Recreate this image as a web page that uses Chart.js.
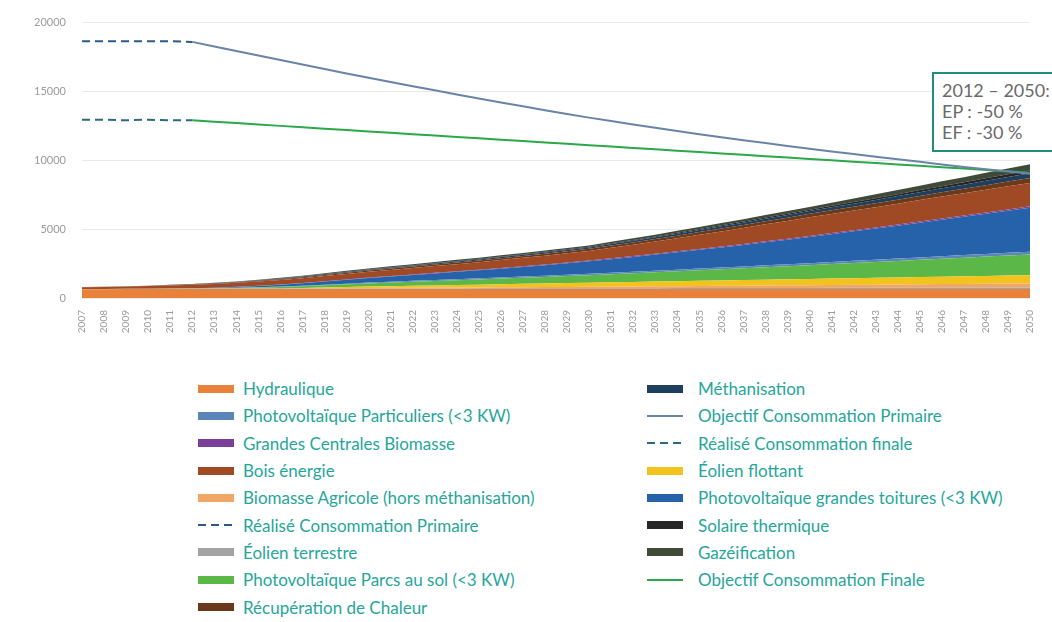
<!DOCTYPE html>
<html>
<head>
<meta charset="utf-8">
<script src="https://cdn.jsdelivr.net/npm/chart.js@4.4.1/dist/chart.umd.min.js"></script>
<style>
  html, body { margin: 0; padding: 0; background: #fff; }
  body { width: 1052px; height: 622px; overflow: hidden; position: relative; font-family: Lato, "Open Sans", sans-serif; }
  #chart { position: absolute; left: 0; top: 0; }
  #note { position: absolute; left: 932px; top: 72px; width: 150px; height: 80px; border: 2px solid #1f8f80; background: #fff;
          color: #6a6a6a; font-size: 18px; line-height: 21px; padding: 6px 0 0 8px; box-sizing: border-box; white-space: nowrap; }
  .legend { position: absolute; top: 375px; }
  .item { height: 27.3px; display: flex; align-items: center; color: #26a69a; font-size: 17px; white-space: nowrap; }
  .sw { display: inline-block; width: 36px; flex: none; }
</style>
</head>
<body>
<canvas id="chart" width="1052" height="350"></canvas>
<div id="note">2012 – 2050:<br>EP : -50 %<br>EF : -30 %</div>
<div id="legend-left" class="legend" style="left:198px"></div>
<div id="legend-right" class="legend" style="left:647px"></div>
<script>
const years = ["2007","2008","2009","2010","2011","2012","2013","2014","2015","2016","2017","2018","2019","2020",
  "2021","2022","2023","2024","2025","2026","2027","2028","2029","2030","2031","2032","2033","2034","2035","2036",
  "2037","2038","2039","2040","2041","2042","2043","2044","2045","2046","2047","2048","2049","2050"];

// stacked areas (bottom to top)
const hydraulique = [640,640,645,645,650,650, 650,650,650,650,650,650,650,650, 650,650,650,650,650,650,650,650,650,650, 650,650,650,650,650,650,650,650,650,650, 655,655,655,655,660,660,660,660,660,660];
const eolienTerrestre = [20,22,24,26,28,30, 31,32,33,35,36,37,38,40, 42,44,46,48,50,52,54,56,58,60, 62,64,66,68,70,72,74,76,78,80, 82,84,86,88,90,92,94,96,98,100];
const biomasseAgricole = [0,0,0,0,0,0, 0,0,5,10,18,25,32,40, 46,52,58,64,70,76,82,88,94,100, 110,120,130,140,150,160,170,180,190,200, 210,220,230,240,250,260,270,280,290,300];
const eolienFlottant = [0,0,0,0,0,0, 0,0,0,0,20,50,75,100, 120,140,160,180,200,220,240,260,280,300, 315,330,345,360,375,390,405,420,435,450, 465,480,495,510,525,540,555,570,585,600];
const pvParcs = [0,0,0,0,5,10, 25,45,70,100,130,160,195,230, 260,290,320,350,380,410,440,475,510,550, 590,630,675,720,765,810,855,905,950,1000, 1050,1100,1150,1200,1250,1300,1350,1400,1450,1500];
const pvParticuliers = [0,0,2,5,8,10, 15,20,26,32,38,44,52,60, 64,68,72,76,80,84,88,92,96,100, 105,110,115,120,125,130,135,140,145,150, 155,160,165,170,175,180,185,190,195,200];
const pvToitures = [0,0,0,0,0,0, 20,50,90,130,180,230,280,330, 380,430,480,530,580,640,700,760,830,900, 990,1080,1170,1260,1360,1460,1560,1670,1780,1900, 2020,2140,2260,2390,2520,2650,2780,2920,3060,3200];
const grandesCentrales = [0,0,0,0,5,10, 12,14,16,18,20,24,27,30, 33,36,39,42,45,48,51,54,57,60, 62,64,66,68,70,72,74,76,78,80, 82,84,86,88,90,92,94,96,98,100];
const boisEnergie = [120,140,165,190,220,250, 270,290,310,330,350,375,400,420, 445,470,495,520,550,580,610,640,670,700, 760,820,880,950,1020,1090,1160,1230,1290,1350, 1390,1430,1470,1510,1550,1590,1620,1650,1680,1700];
const recupChaleur = [20,22,24,26,28,30, 38,46,54,62,70,76,84,90, 96,102,108,114,120,126,132,138,144,150, 160,170,180,190,200,210,220,230,240,250, 260,270,280,290,300,310,320,330,340,350];
const methanisation = [0,0,0,0,5,10, 15,20,27,34,41,48,54,60, 64,68,72,76,80,84,88,92,96,100, 110,120,130,140,150,160,170,180,190,200, 215,230,245,260,275,290,305,320,335,350];
const solaireThermique = [0,0,0,0,5,10, 12,15,18,20,22,25,28,30, 32,34,36,38,40,42,44,46,48,50, 55,60,65,70,75,80,85,90,95,100, 110,120,130,140,150,160,170,180,190,200];
const gazeification = [0,0,0,0,5,10, 17,25,33,41,49,57,63,70, 73,76,79,82,85,88,91,94,97,100, 110,120,130,140,150,160,170,180,190,200, 225,250,275,300,325,350,375,400,425,450];

// consumption lines
const realiseCP = [18650,18650,18650,18650,18650,18600, null,null,null,null,null,null,null,null,
  null,null,null,null,null,null,null,null,null,null, null,null,null,null,null,null,null,null,null,null,
  null,null,null,null,null,null,null,null,null,null];
const realiseCF = [12950,12950,12900,12950,12900,12900, null,null,null,null,null,null,null,null,
  null,null,null,null,null,null,null,null,null,null, null,null,null,null,null,null,null,null,null,null,
  null,null,null,null,null,null,null,null,null,null];
const objectifCP = [null,null,null,null,null, 18600,18270,17940,17610,17280,16950,16630,16310,16000,
  15690,15380,15080,14780,14490,14200,13920,13640,13370,13100, 12850,12600,12360,12130,11900,11680,11460,11250,11040,10840,
  10640,10450,10260,10080,9900,9700,9520,9350,9180,9020];
const objectifCF = [null,null,null,null,null, 12900,12800,12700,12600,12500,12400,12300,12200,12100,
  12000,11900,11800,11700,11600,11500,11400,11300,11200,11100, 11000,10900,10800,10700,10600,10500,10400,10300,10200,10100,
  10000,9900,9800,9700,9600,9500,9400,9300,9200,9100];

const areas = [
  ["Hydraulique", hydraulique, "#e8823a"],
  ["Éolien terrestre", eolienTerrestre, "#a3a3a3"],
  ["Biomasse Agricole (hors méthanisation)", biomasseAgricole, "#f0a766"],
  ["Éolien flottant", eolienFlottant, "#f2c31c"],
  ["Photovoltaïque Parcs au sol (<3 KW)", pvParcs, "#5cb749"],
  ["Photovoltaïque Particuliers (<3 KW)", pvParticuliers, "#5b86b8"],
  ["Photovoltaïque grandes toitures (<3 KW)", pvToitures, "#2662aa"],
  ["Grandes Centrales Biomasse", grandesCentrales, "#7b3f9a"],
  ["Bois énergie", boisEnergie, "#a04a25"],
  ["Récupération de Chaleur", recupChaleur, "#6b3a1a"],
  ["Méthanisation", methanisation, "#1f3f5f"],
  ["Solaire thermique", solaireThermique, "#262626"],
  ["Gazéification", gazeification, "#3f4a38"]
];

const datasets = areas.map(([label, data, color], i) => ({
  label, data,
  backgroundColor: color,
  borderColor: color,
  borderWidth: 0,
  fill: i === 0 ? "origin" : "-1",
  stack: "areas",
  pointRadius: 0
}));

const lines = [
  ["Réalisé Consommation Primaire", realiseCP, "#2b5a8a", [8, 5]],
  ["Réalisé Consommation finale", realiseCF, "#2f6a7a", [8, 5]],
  ["Objectif Consommation Primaire", objectifCP, "#6a83a8", null],
  ["Objectif Consommation Finale", objectifCF, "#2aa84a", null]
];
lines.forEach(([label, data, color, dash], i) => {
  datasets.push({
    label, data,
    borderColor: color,
    backgroundColor: color,
    borderWidth: 2,
    borderDash: dash || [],
    fill: false,
    stack: "line" + i,
    pointRadius: 0,
    order: -1
  });
});

const chart = new Chart(document.getElementById("chart"), {
  type: "line",
  data: { labels: years, datasets },
  options: {
    responsive: false,
    animation: false,
    layout: { padding: { top: 19, right: 22, left: 0, bottom: 0 } },
    plugins: { legend: { display: false }, tooltip: { enabled: false } },
    elements: { line: { tension: 0 } },
    scales: {
      x: {
        grid: { display: false },
        border: { display: false },
        ticks: { autoSkip: false, minRotation: 90, maxRotation: 90, color: "#9a9a9a", font: { family: "Lato", size: 10 }, padding: 4 },
        afterFit: (s) => { s.height = 52; }
      },
      y: {
        stacked: true,
        min: 0,
        max: 20000,
        ticks: { stepSize: 5000, color: "#9a9a9a", font: { family: "Lato", size: 11 }, padding: 16, callback: (v) => String(v) },
        grid: { color: "#e9e9e9", drawTicks: false },
        border: { display: false },
        afterFit: (s) => { s.width = 82; }
      }
    }
  }
});

// two-column legend built from the datasets
const legendLeft = ["Hydraulique", "Photovoltaïque Particuliers (<3 KW)", "Grandes Centrales Biomasse", "Bois énergie",
  "Biomasse Agricole (hors méthanisation)", "Réalisé Consommation Primaire", "Éolien terrestre",
  "Photovoltaïque Parcs au sol (<3 KW)", "Récupération de Chaleur"];
const legendRight = ["Méthanisation", "Objectif Consommation Primaire", "Réalisé Consommation finale", "Éolien flottant",
  "Photovoltaïque grandes toitures (<3 KW)", "Solaire thermique", "Gazéification", "Objectif Consommation Finale"];

function buildLegend(el, names, gap) {
  names.forEach((name) => {
    const ds = chart.data.datasets.find((d) => d.label === name);
    const row = document.createElement("div");
    row.className = "item";
    const sw = document.createElement("span");
    sw.className = "sw";
    if (ds.fill === false) {
      sw.style.height = "2px";
      if (ds.borderDash.length) {
        sw.style.background = `repeating-linear-gradient(90deg, ${ds.borderColor} 0 8px, transparent 8px 13px)`;
      } else {
        sw.style.background = ds.borderColor;
      }
    } else {
      sw.style.height = "8px";
      sw.style.background = ds.backgroundColor;
    }
    sw.style.marginRight = gap + "px";
    const txt = document.createElement("span");
    txt.textContent = name;
    row.appendChild(sw);
    row.appendChild(txt);
    el.appendChild(row);
  });
}
buildLegend(document.getElementById("legend-left"), legendLeft, 9);
buildLegend(document.getElementById("legend-right"), legendRight, 15);
</script>
</body>
</html>
